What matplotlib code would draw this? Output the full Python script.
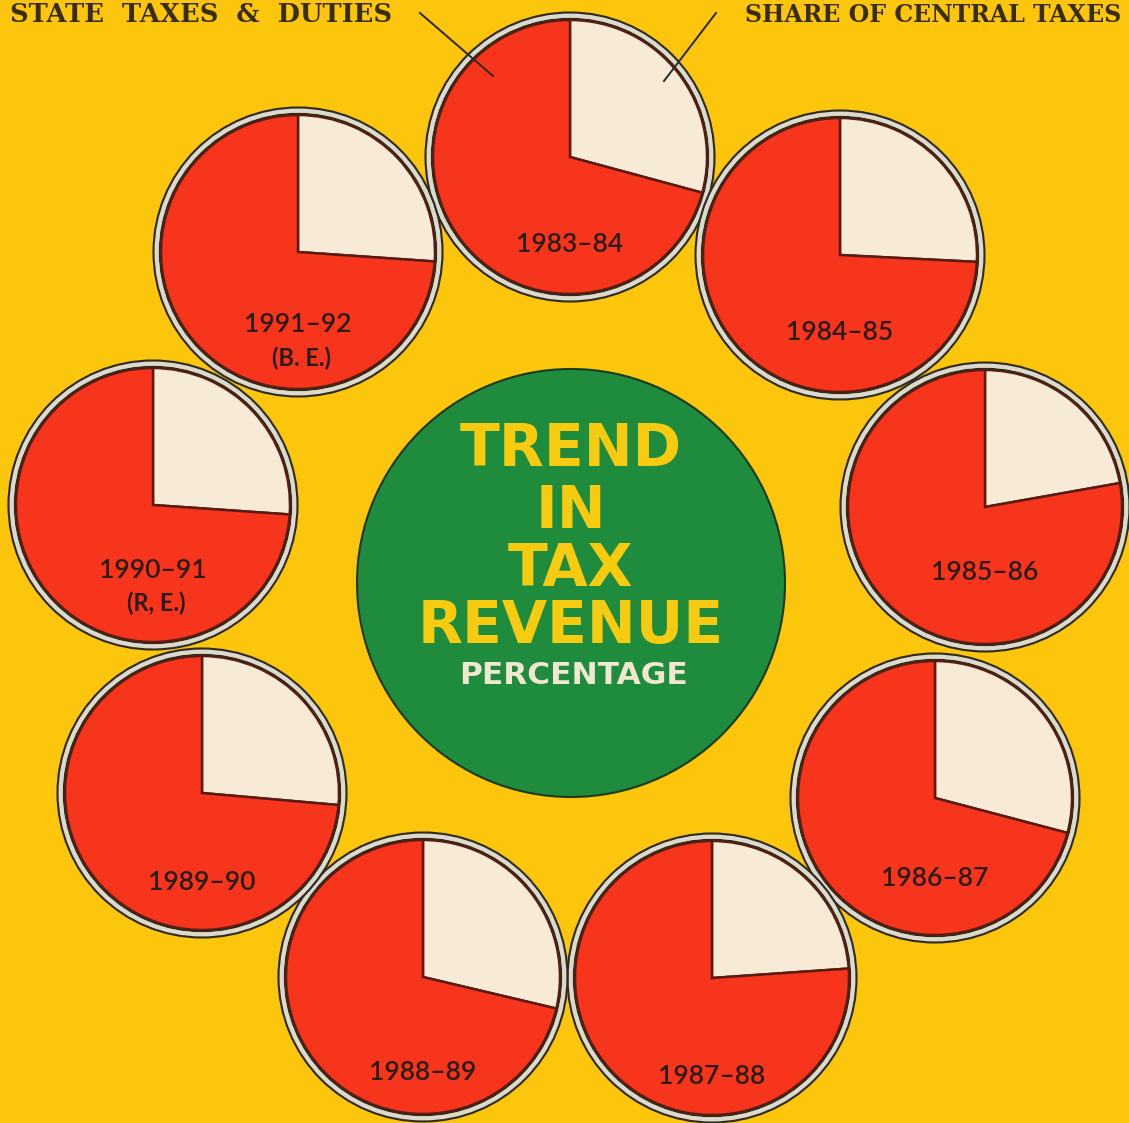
# Trend in tax revenue: state taxes & duties vs share of central taxes, per year.

import matplotlib.pyplot as plt
from matplotlib.patches import Circle

years = ["1983-84", "1984-85", "1985-86", "1986-87", "1987-88",
         "1988-89", "1989-90", "1990-91", "1991-92"]
notes = ["", "", "", "", "", "", "", "(R, E.)", "(B. E.)"]
central_share = [29.2, 25.8, 22.2, 29.1, 23.9, 28.7, 26.4, 26.1, 26.1]
state_share = [70.8, 74.2, 77.8, 70.9, 76.1, 71.3, 73.6, 73.9, 73.9]

# layout (pixel coords, y from top)
W, H = 1129, 1123
centers = [(570, 157), (840, 255), (985, 507), (935, 798), (712, 978),
           (423, 977), (202, 793), (153, 505), (298, 252)]
label_dy = [88, 77, 66, 80, 99, 96, 89, 65, 73]

bg = '#fbc60c'
red = '#f7341c'
cream = '#f7ebd8'
green = '#1f8b3c'
ink = '#2a1c12'
font = 'Lato'

fig = plt.figure(figsize=(W / 100, H / 100), dpi=100)
fig.patch.set_facecolor(bg)
ax = fig.add_axes([0, 0, 1, 1])
ax.set_facecolor(bg)

for i, year in enumerate(years):
    cx, cy = centers[i]
    cy = H - cy
    ax.pie([central_share[i], state_share[i]], colors=[cream, red],
           startangle=90, counterclock=False, center=(cx, cy), radius=137,
           wedgeprops=dict(edgecolor='#5a1c12', linewidth=1.8))
    ax.add_patch(Circle((cx, cy), 138.5, fill=False, ec='#2e2a22', lw=1.2))
    ax.add_patch(Circle((cx, cy), 141.5, fill=False, ec='#dcdad0', lw=3.2))
    ax.add_patch(Circle((cx, cy), 144.5, fill=False, ec='#2e2a22', lw=1.5))
    ax.text(cx, cy - label_dy[i], year.replace('-', '–'), ha='center',
            va='center', fontsize=19, family=font, weight='semibold',
            color=ink)
    if notes[i]:
        ax.text(cx + 3, cy - label_dy[i] - 33, notes[i], ha='center',
                va='center', fontsize=17, family=font, weight='bold',
                color=ink)

# centre title disc
ax.add_patch(Circle((571, H - 583), 214, fc=green, ec='#1c3a1c', lw=1.5))
title_lines = ["TREND", "IN", "TAX", "REVENUE"]
title_y = [450, 512, 570, 627]
for txt, y in zip(title_lines, title_y):
    ax.text(571, H - y, txt, ha='center', va='center', fontsize=42,
            family='DejaVu Sans', weight='bold', color='#f6cb12')
ax.text(573, H - 676, "PERCENTAGE", ha='center', va='center', fontsize=22.5,
        family='DejaVu Sans', weight='bold', color='#efe8cf')

# legend labels at the top edge with leader lines
ax.text(10, H - 22, "STATE  TAXES  &  DUTIES", ha='left', va='baseline',
        fontsize=18.5, family='DejaVu Serif', weight='bold', color='#3a2e10')
ax.text(745, H - 22, "SHARE OF CENTRAL TAXES", ha='left', va='baseline',
        fontsize=17, family='DejaVu Serif', weight='bold', color='#3a2e10')
ax.plot([420, 493], [H - 13, H - 76], color='#2e2a22', lw=1.4)
ax.plot([716, 664], [H - 13, H - 81], color='#2e2a22', lw=1.4)

ax.set_xlim(0, W)
ax.set_ylim(0, H)
ax.set_aspect('equal')
ax.axis('off')

plt.savefig('out.png', dpi=100, facecolor=bg)
